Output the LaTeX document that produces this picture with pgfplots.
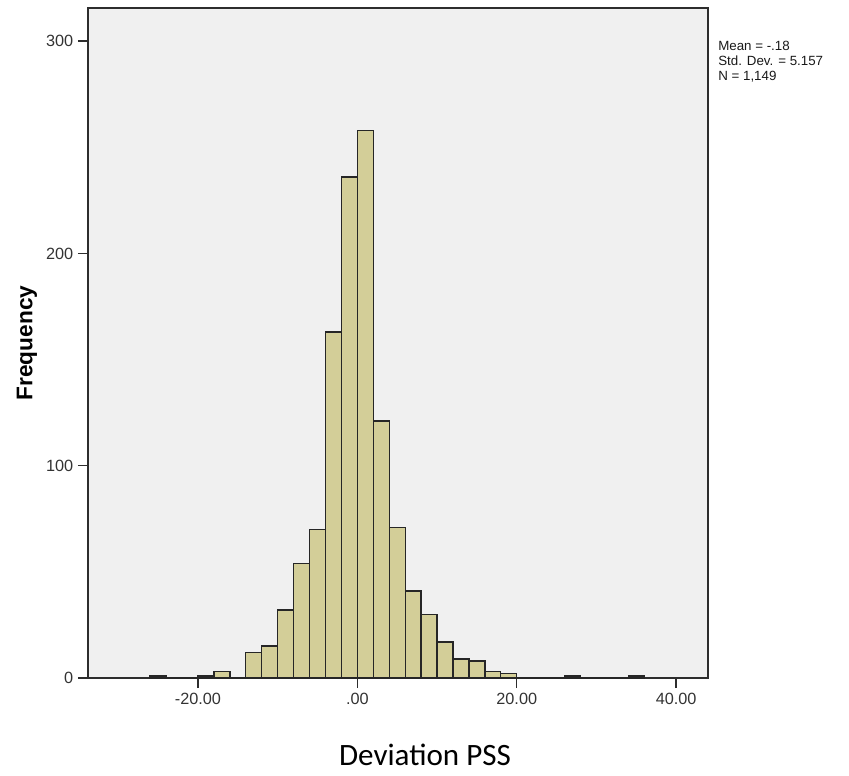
\documentclass[border=0pt]{standalone}
\usepackage{fontspec}
\setmainfont{Liberation Sans}
\newfontfamily\calibri{Carlito}
\usepackage{pgfplots}
\pgfplotsset{compat=1.18}
\definecolor{spssBg}{RGB}{240,240,240}
\definecolor{spssBar}{RGB}{211,206,152}
\definecolor{spssLine}{RGB}{45,45,45}

\begin{document}
\begin{tikzpicture}
% page = 849 x 775 px, 1 px = 0.75pt; plot box 620 x 670 px
\useasboundingbox (-66pt,-72.75pt) rectangle (570.75pt,508.5pt);
\begin{axis}[
  scale only axis,
  width=465pt, height=502.5pt,
  at={(0,0)}, anchor=south west,
  xmin=-33.8, xmax=44.0,
  ymin=0, ymax=315.6,
  axis background/.style={fill=spssBg},
  axis line style={spssLine, line width=1.1pt},
  xtick={-20,0,20,40},
  xticklabels={-20.00,.00,20.00,40.00},
  ytick={0,100,200,300},
  yticklabels={0,100,200,300},
  tick align=outside,
  major tick length=7.5pt,
  tick style={spssLine, line width=1pt},
  xtick pos=bottom, ytick pos=left,
  minor tick num=0,
  tick label style={font=\fontsize{12.2pt}{14pt}\selectfont, text=black!80},
  /pgf/number format/assume math mode=true,
  clip=false,
]
\addplot[ybar interval, fill=spssBar, draw=black!85, line width=1pt]
  coordinates {
  (-26,1) (-24,0) (-22,0) (-20,1) (-18,3) (-16,0) (-14,12) (-12,15)
  (-10,32) (-8,54) (-6,70) (-4,163) (-2,236) (0,258) (2,121) (4,71)
  (6,41) (8,30) (10,17) (12,9) (14,8) (16,3) (18,2) (20,0) (22,0)
  (24,0) (26,1) (28,0) (30,0) (32,0) (34,1) (36,0)
  };
\path (rel axis cs:0,0.5) ++(-45.75pt,0pt)
  node[rotate=90, font=\fontsize{17pt}{19pt}\selectfont\bfseries] {Frequency};
\path (rel axis cs:0.5,0) ++(20.25pt,-65.8pt)
  node[anchor=base, font=\calibri\fontsize{23.3pt}{26pt}\selectfont] {Deviation PSS};
\path (rel axis cs:1,1) ++(7.5pt,-25pt)
  node[anchor=north west, align=left, inner sep=0pt,
  font=\fontsize{10pt}{11.2pt}\selectfont, text=black!90]
  {Mean = -.18\\Std. Dev. = 5.157\\N = 1,149};
\end{axis}
\end{tikzpicture}
\end{document}
